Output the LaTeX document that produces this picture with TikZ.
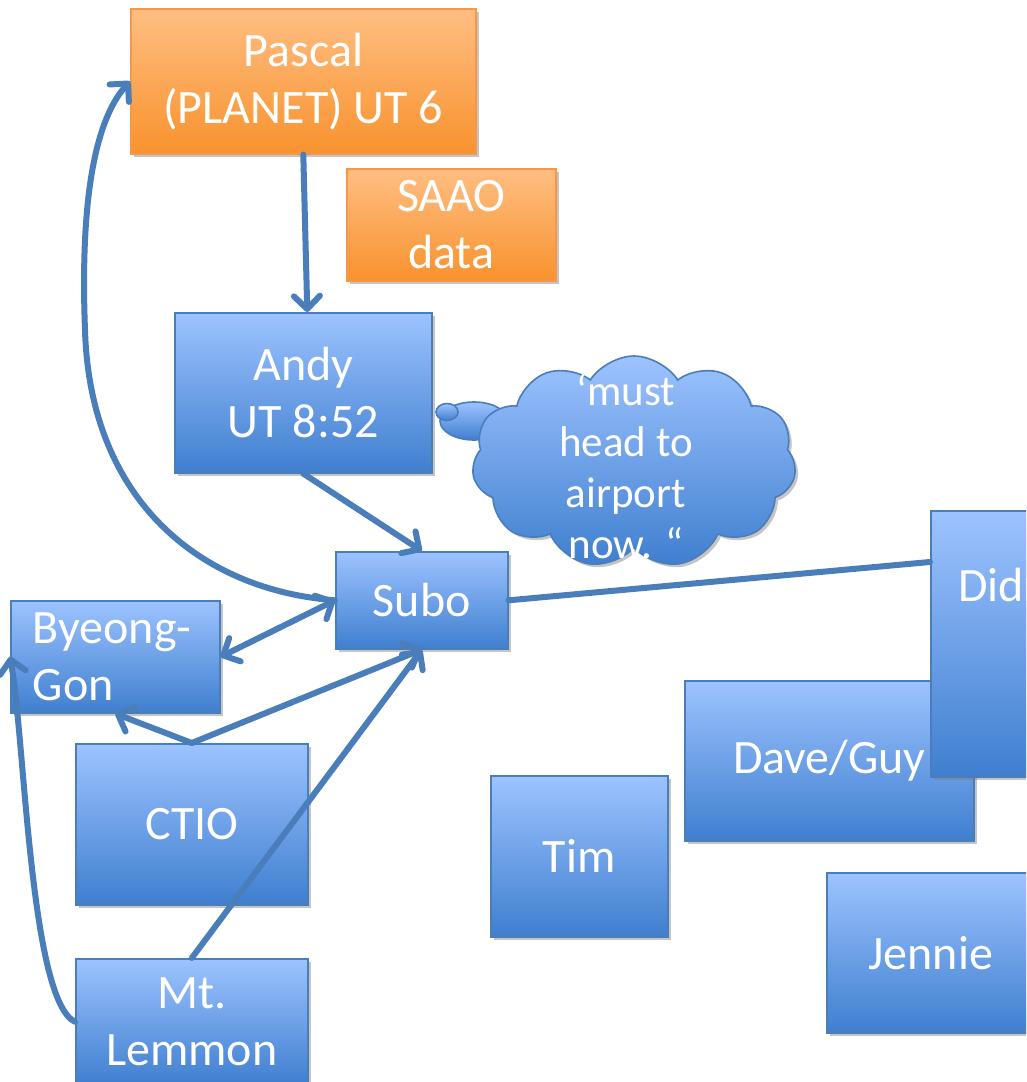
\documentclass[tikz,border=0pt]{standalone}
\usepackage{fontspec}
\setmainfont{Carlito}
\usetikzlibrary{shapes.symbols,shapes.geometric,shadows,arrows.meta,calc}
\definecolor{bTop}{HTML}{9DC3FF}
\definecolor{bBot}{HTML}{3F7FCF}
\definecolor{bLine}{HTML}{4A7EBB}
\definecolor{oTop}{HTML}{FFBE82}
\definecolor{oBot}{HTML}{F8922E}
\definecolor{oLine}{HTML}{F79646}
\newcommand\diagfont{\fontsize{48}{57}\selectfont}
\newcommand\cloudfnt{\fontsize{43}{51}\selectfont}
\begin{document}
\begin{tikzpicture}[x=1pt,y=-1pt,
  shadowed/.style={drop shadow={shadow xshift=3pt,shadow yshift=-3pt,fill=black!50,opacity=0.45}},
  basebox/.style={rectangle, line width=1.6pt, shadowed, anchor=north west,
    text=white, font=\diagfont, align=center, inner sep=0pt},
  bluebox/.style={basebox, draw=bLine, top color=bTop, bottom color=bBot},
  orangebox/.style={basebox, draw=oLine, top color=oTop, bottom color=oBot},
  conn/.style={draw=bLine, line width=6pt, line cap=round, line join=round},
  tipb/.tip={Straight Barb[length=13pt,width=26pt,round]},
  arr/.style={conn, -tipb},
  darr/.style={conn, tipb-tipb},
  bubble/.style={ellipse, draw=bLine, line width=1.6pt, top color=bTop, bottom color=bBot, inner sep=0pt}
]
\useasboundingbox (0,0) rectangle (1026,1082);
\clip (0,0) rectangle (1026,1082);
\fill[white] (0,0) rectangle (1026,1082);

% orange boxes
\node[orangebox, minimum width=345pt, minimum height=145pt] (pascal) at (130,8) {Pascal\\(PLANET) UT 6};
\node[orangebox, minimum width=209pt, minimum height=112pt] (saao) at (346,168) {SAAO\\data};

% blue boxes
\node[bluebox, minimum width=257pt, minimum height=160pt] (andy) at (174,312) {Andy\\UT 8:52};
\node[bluebox, minimum width=172pt, minimum height=97pt] (subo) at (335,551) {Subo};
\node[bluebox, minimum width=209pt, minimum height=112pt, align=left, text width=165pt] (bg) at (10,600) {Byeong-\\Gon};
\node[bluebox, minimum width=232pt, minimum height=161pt] (ctio) at (75,743) {CTIO};
\node[bluebox, minimum width=232pt, minimum height=126pt] (lemmon) at (75,958) {Mt.\\Lemmon};
\node[bluebox, minimum width=177pt, minimum height=161pt] (tim) at (490,775) {Tim};
\node[bluebox, minimum width=289pt, minimum height=160pt] (dave) at (684,680) {Dave/Guy};
\node[bluebox, minimum width=180pt, minimum height=266pt] (didi) at (930,510) {};
\node[anchor=base west, text=white, font=\diagfont, inner sep=0pt] (diditext) at (958,601) {Didr};
\node[bluebox, minimum width=208pt, minimum height=160pt] (jennie) at (826,872) {Jennie};

% thought cloud
\node[bubble, minimum width=68pt, minimum height=38pt] (bubA) at (474,421) {};
\node[bubble, minimum width=22pt, minimum height=17pt] (bubB) at (447,412) {};
\node[cloud, cloud puffs=11, cloud puff arc=115, shape border rotate=10, draw=bLine, line width=1.6pt,
      top color=bTop, bottom color=bBot, minimum width=324pt, minimum height=212pt,
      inner sep=0pt, shadowed] (cloud) at (634,462) {};
\node[text=white, font=\cloudfnt, align=center, inner sep=0pt] (cloudtext) at (626,467) {‘must\\head to\\airport\\now. “};

% connectors
\draw[arr] (pascal.south) -- ($(andy.north)+(4,0)$);
\draw[arr] (andy.south) -- (subo.north);
\draw[arr] (subo.west) .. controls (200,590) and (90,500) .. (85,330)
   .. controls (80,200) and (95,120) .. (pascal.west);
\draw[darr] (bg.east) -- (subo.west);
\draw[arr] (ctio.north) -- (bg.south);
\draw[arr] (ctio.north) -- (subo.south);
\draw[arr] (lemmon.north) -- (subo.south);
\draw[arr] (lemmon.west) .. controls (30,1000) and (25,740) .. (bg.west);
\draw[conn] (subo.east) -- ($(didi.north west)+(0,52)$);
\end{tikzpicture}
\end{document}
